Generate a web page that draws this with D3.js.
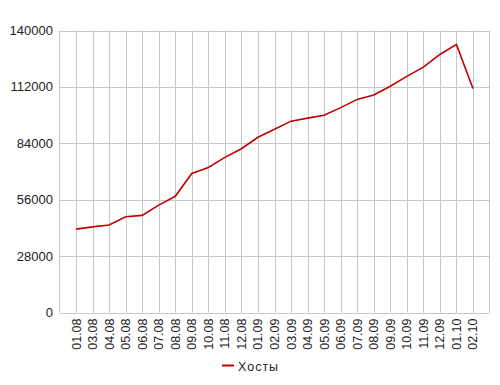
<!DOCTYPE html>
<html>
  <head>
    <meta charset="UTF-8" />
    <style>
      body { margin: 0; background: #fff; }
      text { font-family: "Liberation Sans", Arial, sans-serif; fill: #222; }
    </style>
  </head>
  <body>
    <svg></svg>
    <script src="https://d3js.org/d3.v7.min.js"></script>
    <script>
      let width = 500,
        height = 385;

      // dates (dd.mm) and host counts
      let dates = ["01.08", "03.08", "04.08", "05.08", "06.08", "07.08", "08.08", "09.08",
        "10.08", "11.08", "12.08", "01.09", "02.09", "03.09", "04.09", "05.09", "06.09",
        "07.09", "08.09", "09.09", "10.09", "11.09", "12.09", "01.10", "02.10"];
      let hosts = [41400, 42500, 43400, 47500, 48200, 53300, 57700, 69000,
        72000, 77000, 81300, 87000, 91000, 95000, 96500, 97900, 101700,
        105800, 108000, 112300, 117200, 121800, 128100, 133100, 111200];
      let yTicks = [0, 28000, 56000, 84000, 112000, 140000];
      let seriesName = "Хосты";

      let svg = d3.select("svg").attr("width", width).attr("height", height);

      let plotLeft = 59.5, plotRight = 489.5, plotTop = 30.5, plotBottom = 312.5;

      let x = d3.scalePoint().domain(dates).range([plotLeft, plotRight]).padding(1);
      let y = d3.scaleLinear().domain([0, 140000]).range([plotBottom, plotTop]);

      let grid = svg.append("g").attr("stroke", "#c8c8c8").attr("stroke-width", 1);

      // horizontal grid
      grid.selectAll(".h")
        .data(yTicks)
        .join("line")
        .attr("x1", plotLeft).attr("x2", plotRight)
        .attr("y1", d => Math.round(y(d)) + 0.5)
        .attr("y2", d => Math.round(y(d)) + 0.5);

      // vertical grid, one per date plus the borders
      grid.selectAll(".v")
        .data(dates)
        .join("line")
        .attr("x1", d => Math.round(x(d)) + 0.5)
        .attr("x2", d => Math.round(x(d)) + 0.5)
        .attr("y1", plotTop).attr("y2", plotBottom);
      grid.append("line").attr("x1", plotLeft).attr("x2", plotLeft).attr("y1", plotTop).attr("y2", plotBottom);
      grid.append("line").attr("x1", plotRight).attr("x2", plotRight).attr("y1", plotTop).attr("y2", plotBottom);

      // y labels
      svg.append("g")
        .selectAll("text")
        .data(yTicks)
        .join("text")
        .attr("x", 53)
        .attr("y", d => y(d) + 4.5)
        .attr("text-anchor", "end")
        .style("font-size", "13px")
        .text(d => d);

      // x labels, rotated
      svg.append("g")
        .selectAll("text")
        .data(dates)
        .join("text")
        .attr("transform", d => `translate(${x(d) + 4.5},${plotBottom + 6}) rotate(-90)`)
        .attr("text-anchor", "end")
        .style("font-size", "12.5px")
        .text(d => d);

      let line = d3.line()
        .x((d, i) => x(dates[i]))
        .y(d => y(d));

      svg.append("path")
        .datum(hosts)
        .attr("fill", "none")
        .attr("stroke", "#c00000")
        .attr("stroke-width", 1.6)
        .attr("d", line);

      // legend
      let legend = svg.append("g").attr("transform", "translate(222,365.5)");
      legend.append("line")
        .attr("x1", 0).attr("x2", 12)
        .attr("stroke", "#c00000").attr("stroke-width", 2);
      legend.append("text")
        .attr("x", 16).attr("y", 5)
        .style("font-size", "12.5px")
        .style("letter-spacing", "1px")
        .text(seriesName);
    </script>
  </body>
</html>
